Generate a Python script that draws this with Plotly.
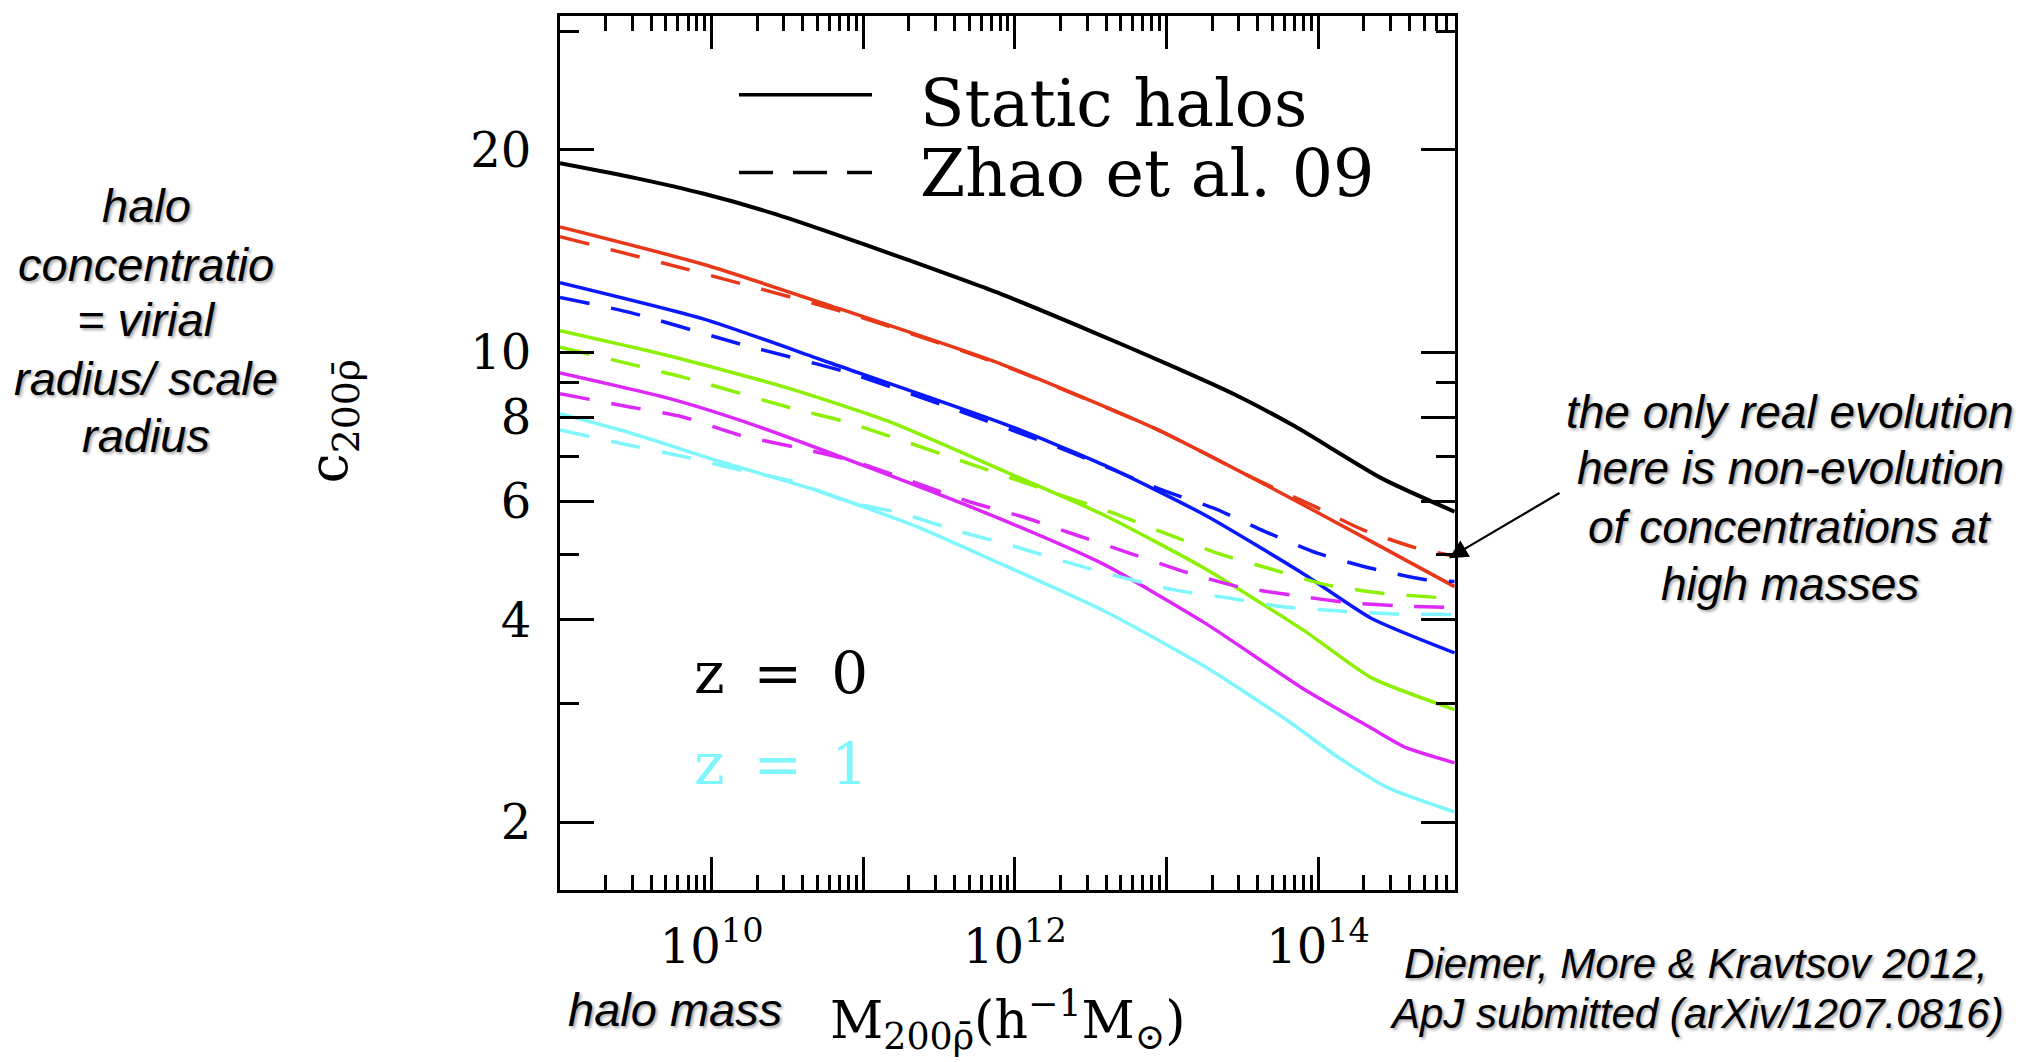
import numpy as np
import plotly.graph_objects as go

# ---------------- data ----------------
# log10 halo mass and concentration c_200rho-bar
lgM_static = [9.0, 9.5, 9.95, 10.4, 10.77, 11.3, 11.91, 12.5, 13.03, 13.45, 13.85, 14.42, 14.9]
c_static = [19.1, 18.15, 17.2, 16.1, 15.1, 13.7, 12.2, 10.75, 9.55, 8.65, 7.75, 6.49, 5.79]

lgM_z0 = [9.0, 9.95, 10.77, 11.91, 12.93, 13.70, 14.35, 14.9]
c_z0 = [15.35, 13.5, 11.75, 9.6, 7.69, 6.27, 5.23, 4.48]
lgM_z0_zhao = [9.0, 9.84, 10.88, 11.9, 12.93, 13.6, 13.98, 14.29, 14.64, 14.9]
c_z0_zhao = [14.85, 13.28, 11.46, 9.6, 7.69, 6.45, 5.89, 5.45, 5.12, 4.97]

lgM_z025 = [9.0, 9.95, 10.77, 11.95, 12.59, 13.25, 13.91, 14.35, 14.9]
c_z025 = [12.69, 11.2, 9.66, 7.79, 6.79, 5.73, 4.67, 4.02, 3.57]
lgM_z025_zhao = [9.0, 9.46, 10.19, 10.89, 11.59, 12.3, 12.97, 13.32, 13.65, 14.0, 14.35, 14.7, 14.9]
c_z025_zhao = [12.06, 11.46, 10.28, 9.34, 8.24, 7.2, 6.24, 5.85, 5.41, 5.02, 4.77, 4.59, 4.56]

lgM_z05 = [9.0, 9.73, 10.5, 11.16, 11.95, 12.59, 13.25, 13.91, 14.35, 14.9]
c_z05 = [10.76, 9.86, 8.85, 7.9, 6.62, 5.72, 4.77, 3.85, 3.28, 2.94]
lgM_z05_zhao = [9.0, 9.81, 10.54, 10.89, 11.6, 12.3, 12.65, 12.99, 13.34, 13.7, 14.05, 14.42, 14.9]
c_z05_zhao = [10.17, 9.18, 8.24, 7.87, 6.95, 6.13, 5.76, 5.38, 5.02, 4.75, 4.51, 4.38, 4.3]

lgM_z075 = [9.0, 9.73, 10.28, 11.08, 11.92, 12.59, 13.25, 13.91, 14.35, 14.58, 14.9]
c_z075 = [9.31, 8.52, 7.79, 6.68, 5.63, 4.83, 3.96, 3.15, 2.76, 2.58, 2.45]
lgM_z075_zhao = [9.0, 9.46, 9.81, 10.19, 10.54, 10.94, 11.7, 12.05, 12.4, 12.76, 13.11, 13.47, 13.83, 14.2, 14.56, 14.9]
c_z075_zhao = [8.67, 8.29, 8.01, 7.52, 7.23, 6.88, 5.99, 5.69, 5.35, 5.02, 4.72, 4.48, 4.35, 4.24, 4.19, 4.17]

lgM_z1 = [9.0, 9.45, 10.06, 10.72, 11.38, 11.92, 12.59, 13.25, 13.8, 14.13, 14.46, 14.9]
c_z1 = [8.10, 7.6, 6.87, 6.2, 5.47, 4.83, 4.12, 3.41, 2.83, 2.5, 2.25, 2.07]
lgM_z1_zhao = [9.0, 9.46, 9.82, 10.19, 10.54, 10.9, 11.25, 11.6, 12.0, 12.33, 12.68, 13.05, 13.41, 13.77, 14.15, 14.51, 14.9]
c_z1_zhao = [7.66, 7.27, 6.99, 6.68, 6.42, 5.99, 5.76, 5.44, 5.14, 4.88, 4.64, 4.43, 4.31, 4.18, 4.12, 4.08, 4.07]

x_major_vals = [1e10, 1e11, 1e12, 1e13, 1e14]
x_major_text = ["10<sup>10</sup>", "", "10<sup>12</sup>", "", "10<sup>14</sup>"]
y_major_vals = [2, 4, 6, 8, 10, 20]
y_minor_vals = [3, 5, 7, 9, 30]

# ---------------- styling ----------------
OFF = 8  # default page margin of the html body
W, H = 2030 - OFF, 1062 - OFF
L, T = 560 - OFF, 13 - OFF
R = W - (1455 - OFF)
B = H - (890 - OFF)
PW, PH = W - L - R, H - T - B

def px(xpage):
    return (xpage - OFF - L) / PW

def py(ypage):
    return (H - B - (ypage - OFF)) / PH

RED = "#e8381a"
BLUE = "#0a18ff"
GREEN = "#8cf000"
MAGENTA = "#dc28f8"
CYAN = "#7ef6fc"
DASH = "30px,22px"

fig = go.Figure()

series = [
    ("Static halos", lgM_static, c_static, "black", "solid", 4),
    ("z = 0", lgM_z0, c_z0, RED, "solid", 3.5),
    ("z = 0 (Zhao et al. 09)", lgM_z0_zhao, c_z0_zhao, RED, DASH, 3.5),
    ("z = 0.25", lgM_z025, c_z025, BLUE, "solid", 3.5),
    ("z = 0.25 (Zhao et al. 09)", lgM_z025_zhao, c_z025_zhao, BLUE, DASH, 3.5),
    ("z = 0.5", lgM_z05, c_z05, GREEN, "solid", 3.5),
    ("z = 0.5 (Zhao et al. 09)", lgM_z05_zhao, c_z05_zhao, GREEN, DASH, 3.5),
    ("z = 0.75", lgM_z075, c_z075, MAGENTA, "solid", 3.5),
    ("z = 0.75 (Zhao et al. 09)", lgM_z075_zhao, c_z075_zhao, MAGENTA, DASH, 3.5),
    ("z = 1", lgM_z1, c_z1, CYAN, "solid", 3.5),
    ("z = 1 (Zhao et al. 09)", lgM_z1_zhao, c_z1_zhao, CYAN, DASH, 3.5),
]
for name, lgm, c, col, dash, w in series:
    fig.add_trace(go.Scatter(
        x=10 ** np.array(lgm), y=c, mode="lines", name=name,
        line=dict(color=col, dash=dash, width=w, shape="spline", smoothing=0.6),
        showlegend=False,
    ))

x_minor_vals = [m * 10.0 ** e for e in range(9, 15) for m in range(2, 10) if m * 10.0 ** e < 8e14]

serif = "DejaVu Serif"
fig.update_xaxes(
    type="log", range=[9, np.log10(8e14)],
    showline=True, linewidth=3, linecolor="black", mirror="ticks",
    ticks="inside", ticklen=33, tickwidth=2.5, tickcolor="black",
    tickmode="array", tickvals=x_major_vals, ticktext=x_major_text,
    tickfont=dict(family=serif, size=48, color="black"),
    ticklabelstandoff=12,
    minor=dict(tickmode="array", tickvals=x_minor_vals, ticks="inside",
               ticklen=15, tickwidth=2.5, tickcolor="black", showgrid=False),
    showgrid=False, zeroline=False,
)
fig.update_yaxes(
    type="log", range=[0.2, 1.5],
    showline=True, linewidth=3, linecolor="black", mirror="ticks",
    ticks="inside", ticklen=34, tickwidth=2.5, tickcolor="black",
    tickmode="array", tickvals=y_major_vals, ticktext=[str(v) for v in y_major_vals],
    tickfont=dict(family=serif, size=48, color="black"),
    ticklabelstandoff=16,
    minor=dict(tickmode="array", tickvals=y_minor_vals, ticks="inside",
               ticklen=19, tickwidth=2.5, tickcolor="black", showgrid=False),
    showgrid=False, zeroline=False,
)

# legend drawn inside the frame
fig.add_shape(type="line", xref="paper", yref="paper", x0=px(739), x1=px(872), y0=py(92), y1=py(92),
              line=dict(color="black", width=3.5))
fig.add_shape(type="line", xref="paper", yref="paper", x0=px(739), x1=px(872), y0=py(170), y1=py(170),
              line=dict(color="black", width=3.5, dash="34px,20px"))

annos = []
def txt(text, x, y, size, family, color="black", xanchor="center", italic=False, shadow=None, angle=0):
    f = dict(family=family, size=size, color=color)
    if italic:
        f["style"] = "italic"
    if shadow:
        f["shadow"] = shadow
    annos.append(dict(text=text, x=px(x), y=py(y), xref="paper", yref="paper",
                      xanchor=xanchor, yanchor="middle", showarrow=False, font=f,
                      textangle=angle))

txt("Static halos", 918, 101, 65, serif, xanchor="left")
txt("Zhao et al. 09", 918, 171, 65, serif, xanchor="left")
txt("z\u2002=\u20020", 692, 672, 58, serif, xanchor="left")
txt("z\u2002=\u20021", 692, 764, 58, serif, color=CYAN, xanchor="left")

sans = "Liberation Sans"
shadow = "2px 2px 3px rgba(0,0,0,0.35)"
for t, yy in zip(["halo", "concentratio", "= virial", "radius/ scale", "radius"], [203, 262, 318, 377, 434]):
    txt(t, 146, yy, 47, sans, italic=True, shadow=shadow)
for t, yy in zip(["the only real evolution", "here is non-evolution", "of concentrations at", "high masses"],
                 [410, 467, 526, 583]):
    txt(t, 1790, yy, 46, sans, italic=True, shadow=shadow)
txt("halo mass", 675, 1010, 47, sans, italic=True, shadow=shadow)
txt("Diemer, More &amp; Kravtsov 2012,", 1696, 964, 42, sans, italic=True, shadow=shadow)
txt("ApJ submitted (arXiv/1207.0816)", 1696, 1014, 42, sans, italic=True, shadow=shadow)

# axis titles
txt("M<sub>200\u03c1\u0304</sub>(h<sup>\u22121</sup>M<sub>\u2299</sub>)", 1008, 1020, 52, serif)
txt("c<sub>200\u03c1\u0304</sub>", 332, 420, 54, serif, angle=-90)

# arrow
annos.append(dict(text="", x=px(1449), y=py(557), xref="paper", yref="paper",
                  showarrow=True, ax=112, ay=-66, axref="pixel", ayref="pixel",
                  arrowhead=2, arrowsize=1.7, arrowwidth=2.2, arrowcolor="black", standoff=0))

fig.update_layout(
    width=W, height=H,
    margin=dict(l=L, r=R, t=T, b=B, pad=0),
    paper_bgcolor="white", plot_bgcolor="white",
    annotations=annos,
    showlegend=False,
)

fig.write_html("out.html")
